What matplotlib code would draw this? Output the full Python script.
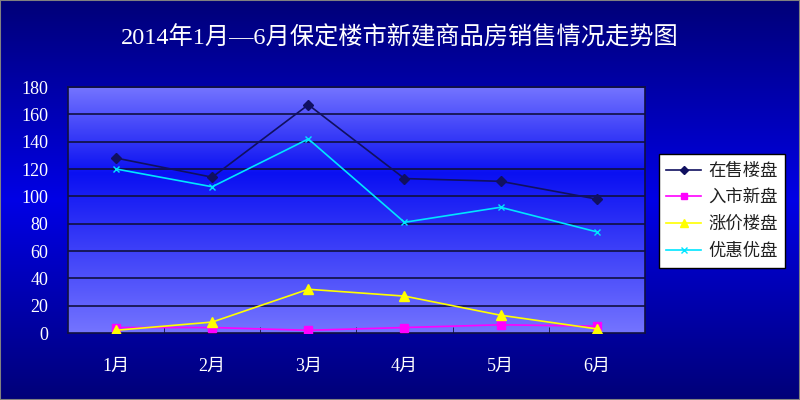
import numpy as np
import matplotlib
matplotlib.use("Agg")
import matplotlib.pyplot as plt
from matplotlib.colors import LinearSegmentedColormap

plt.rcParams['font.family'] = ['Liberation Serif', 'Noto Sans CJK SC', 'DejaVu Sans']

months = ["1月", "2月", "3月", "4月", "5月", "6月"]
on_sale = [128, 114, 167, 113, 111, 98]      # 在售楼盘
new_open = [4, 4, 2, 4, 6, 5]                # 入市新盘
price_up = [2, 8, 32, 27, 13, 3]             # 涨价楼盘
discount = [120, 107, 142, 81, 92, 74]       # 优惠优盘
y_ticks = [0, 20, 40, 60, 80, 100, 120, 140, 160, 180]
title = "2014年1月—6月保定楼市新建商品房销售情况走势图"

fig = plt.figure(figsize=(8, 4), dpi=100)

# figure background gradient
bg = fig.add_axes([0, 0, 1, 1], zorder=-10)
bg_cmap = LinearSegmentedColormap.from_list(
    "bg", [(0, "#000078"), (0.5, "#0000E6"), (1, "#000078")])
bg.imshow(np.linspace(0, 1, 256).reshape(-1, 1), aspect="auto", cmap=bg_cmap,
          extent=[0, 1, 0, 1])
bg.set_axis_off()
fig.patches.append(plt.Rectangle((0, 0), 1, 1, transform=fig.transFigure,
                                 fill=False, edgecolor="#808080", lw=1.5))

ax = fig.add_axes([0.085, 0.1675, 0.721, 0.615])
x = np.arange(len(months))

# plot-area gradient
pa_cmap = LinearSegmentedColormap.from_list(
    "pa", [(0, "#7474FF"), (0.35, "#0A10F2"), (1, "#7474FF")])
ax.imshow(np.linspace(0, 1, 256).reshape(-1, 1), aspect="auto", cmap=pa_cmap,
          extent=[-0.5, 5.5, 0, 180], zorder=0)

for yv in y_ticks[1:]:
    ax.axhline(yv, color="#101040", lw=1.2, zorder=1)

ax.plot(x, on_sale, color="#101060", lw=1.2, marker="D", ms=5, label="在售楼盘", zorder=3)
ax.plot(x, new_open, color="#FF00FF", lw=1.2, marker="s", ms=6, label="入市新盘", zorder=3)
ax.plot(x, price_up, color="#FFFF00", lw=1.2, marker="^", ms=7, label="涨价楼盘", zorder=3)
ax.plot(x, discount, color="#00E5FF", lw=1.2, marker="x", ms=5, label="优惠优盘", zorder=3)

ax.set_xlim(-0.5, 5.5)
ax.set_ylim(0, 180)
ax.set_yticks(y_ticks)
ax.set_xticks(x)
ax.set_xticklabels(months)
ax.set_xticks(np.arange(0.5, 5.5, 1), minor=True)
ax.tick_params(axis="x", which="major", length=0, pad=18, colors="white", labelsize=13)
ax.tick_params(axis="x", which="minor", length=4, direction="in", color="#101040")
ax.tick_params(axis="y", length=0, pad=14, colors="white", labelsize=13)
for s in ax.spines.values():
    s.set_color("#101040")
    s.set_linewidth(1.2)

fig.text(0.5, 0.905, title, color="white", fontsize=17.5, ha="center", va="center")

leg = ax.legend(loc="center left", bbox_to_anchor=(1.009, 0.497), frameon=True,
                fancybox=False, edgecolor="black", facecolor="white", framealpha=1,
                prop={"family": ["Noto Sans CJK SC"], "size": 12.5},
                handlelength=2.0, labelspacing=0.5, borderpad=0.45,
                handletextpad=0.4, markerscale=0.8)
leg.get_frame().set_linewidth(1)
for t in leg.get_texts():
    t.set_color("#202020")

fig.savefig("out.png", dpi=100)
